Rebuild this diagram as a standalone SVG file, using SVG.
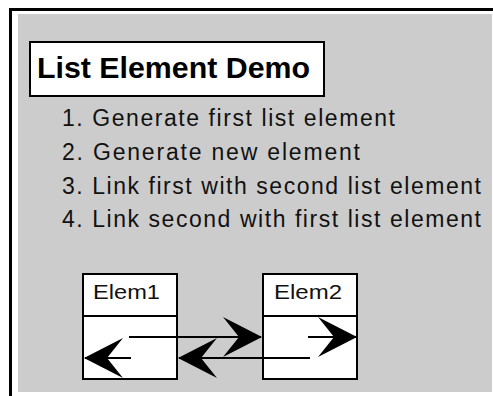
<svg xmlns="http://www.w3.org/2000/svg" width="493" height="396" viewBox="0 0 493 396">
  <style>
    .frame { fill: none; stroke: #000; stroke-width: 3; }
    .bg { fill: #cccccc; }
    .box { fill: #fff; stroke: #000; stroke-width: 2; }
    .title { font-family: "Liberation Sans", Arial, sans-serif; font-weight: bold; font-size: 30px; fill: #000; }
    .item { font-family: "Liberation Sans", Arial, sans-serif; font-size: 23px; fill: #111; }
    .label { font-family: "Liberation Sans", Arial, sans-serif; font-size: 21px; fill: #111; }
    .link { stroke: #000; stroke-width: 2; fill: none; marker-end: url(#head); }
  </style>
  <defs>
    <marker id="head" markerUnits="userSpaceOnUse" viewBox="-40 -22 42 44" refX="0" refY="0" markerWidth="42" markerHeight="44" orient="auto">
      <path d="M1,0 L-38,-20 L-22,0 L-38,20 Z" fill="#000"/>
    </marker>
  </defs>

  <rect x="0" y="0" width="493" height="396" fill="#fff"/>
  <rect class="bg" x="18" y="14" width="474" height="378"/>
  <path class="frame" d="M10.5,396 V9.5 H493"/>

  <g id="title">
    <rect class="box" x="30" y="42" width="294" height="54"/>
    <text class="title" x="37" y="78" textLength="273" lengthAdjust="spacingAndGlyphs">List Element Demo</text>
  </g>

  <g id="steps">
    <text class="item" x="62" y="126" textLength="333">1. Generate first list element</text>
    <text class="item" x="62" y="160" textLength="298">2. Generate new element</text>
    <text class="item" x="62" y="194" textLength="419">3. Link first with second list element</text>
    <text class="item" x="62" y="227" textLength="419">4. Link second with first list element</text>
  </g>

  <g id="elem1">
    <rect class="box" x="83" y="274" width="94" height="105"/>
    <line x1="83" y1="316" x2="177" y2="316" stroke="#000" stroke-width="2"/>
    <text class="label" x="93" y="299" textLength="67" lengthAdjust="spacingAndGlyphs">Elem1</text>
  </g>

  <g id="elem2">
    <rect class="box" x="263" y="274" width="94" height="105"/>
    <line x1="263" y1="316" x2="357" y2="316" stroke="#000" stroke-width="2"/>
    <text class="label" x="274" y="299" textLength="68" lengthAdjust="spacingAndGlyphs">Elem2</text>
  </g>

  <g id="connectors">
    <line class="link" x1="129" y1="337" x2="261" y2="337"/>
    <line class="link" x1="310" y1="358" x2="179" y2="358"/>
    <line class="link" x1="131" y1="358" x2="85" y2="358"/>
    <line class="link" x1="308" y1="337" x2="356" y2="337"/>
  </g>
</svg>
